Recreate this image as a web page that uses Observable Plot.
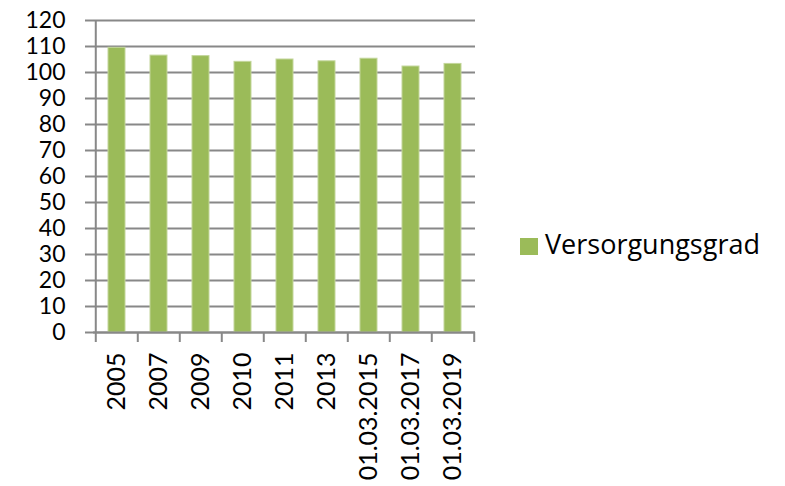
<!DOCTYPE html>
<html><head><meta charset="utf-8">
<script src="https://cdn.jsdelivr.net/npm/d3@7"></script>
<script src="https://cdn.jsdelivr.net/npm/@observablehq/plot@0.6"></script>
<style>
body{margin:0;background:#fff;}
#wrap{position:relative;width:785px;height:486px;}
#legend{position:absolute;left:520px;top:226px;display:flex;align-items:center;font-family:"Open Sans",Lato,sans-serif;font-size:27px;line-height:36px;color:#000;}
#legend span.sw{display:inline-block;width:18px;height:17px;background:#9BBB59;margin-right:7px;margin-top:4px;}
</style></head>
<body><div id="wrap"><div id="legend"><span class="sw"></span><span>Versorgungsgrad</span></div></div>
<script>
const categories = ["2005","2007","2009","2010","2011","2013","01.03.2015","01.03.2017","01.03.2019"];
const values = [109.5,106.5,106.3,104.1,105.0,104.3,105.3,102.3,103.3];
const yTicks = [0,10,20,30,40,50,60,70,80,90,100,110,120];
const seriesName = "Versorgungsgrad";

const data = categories.map((c,i)=>({cat:c, v:values[i]}));
const W = 785, H = 486, ml = 93, mr = 310, mt = 20, mb = 154;
const step = (W - ml - mr) / categories.length;
const grid = "#888888";

const plot = Plot.plot({
  width: W, height: H,
  marginLeft: ml, marginRight: mr, marginTop: mt, marginBottom: mb,
  style: {background: "#fff"},
  x: {type: "band", domain: categories, paddingInner: 0.6, paddingOuter: 0.3, axis: null},
  y: {type: "linear", domain: [0,120], axis: null},
  marks: [
    Plot.ruleY(yTicks, {y: d=>d, stroke: grid, strokeWidth: 2}),
    Plot.axisY({ticks: yTicks, tickSize: 8, tickPadding: 20, stroke: grid, strokeWidth: 2, strokeOpacity: 1, fontSize: 23, fontFamily: "Lato, 'Open Sans', sans-serif", fill: "#000", tickFormat: d=>String(d), label: null}),
    Plot.ruleX(categories.slice(0,1), {x: d=>d, dx: -step/2, y1: 0, y2: 120, stroke: grid, strokeWidth: 2}),
    Plot.barY(data, {x: "cat", y: "v", fill: "#9BBB59", stroke: "#C3D69B", strokeWidth: 1}),
    Plot.ruleX(categories, {x: d=>d, dx: -step/2, y1: 0, y2: 0, insetBottom: -10, stroke: grid, strokeWidth: 2}),
    Plot.ruleX(categories.slice(-1), {x: d=>d, dx: step/2, y1: 0, y2: 0, insetBottom: -10, stroke: grid, strokeWidth: 2}),
    Plot.axisX({tickSize: 0, tickPadding: 20, tickRotate: -90, fontSize: 25, fontFamily: "Lato, 'Open Sans', sans-serif", fill: "#000", label: null}),
    Plot.ruleY([0], {y: d=>d, stroke: grid, strokeWidth: 2})
  ]
});
document.getElementById("wrap").prepend(plot);
</script></body></html>
